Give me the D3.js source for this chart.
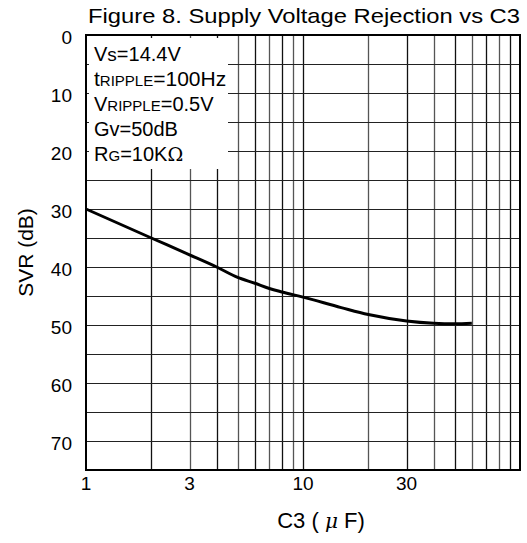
<!DOCTYPE html>
<html>
<head>
<meta charset="utf-8">
<script src="https://cdn.jsdelivr.net/npm/d3@7"></script>
<style>
  body { margin: 0; background: #fff; }
  svg { display: block; font-family: "Liberation Sans", Arial, sans-serif; }
</style>
</head>
<body>
<svg id="chart" width="527" height="543"></svg>
<script>
// C3 capacitance (uF) and supply voltage rejection (dB)
var capValues = [1, 2, 3, 4, 5, 6, 7, 8, 10, 15, 20, 30, 40, 50, 60];
var svrValues = [30.0, 35.0, 37.9, 40.0, 41.8, 42.8, 43.7, 44.3, 45.2, 47.0, 48.2, 49.3, 49.7, 49.8, 49.7];

var xTickLabels = [1, 3, 10, 30];
var yTickLabels = [0, 10, 20, 30, 40, 50, 60, 70];
var xGridValues = [2, 3, 4, 5, 6, 7, 8, 9, 10, 20, 30, 40, 50, 60, 70, 80, 90];
var yGridValues = [5, 10, 15, 20, 25, 30, 35, 40, 45, 50, 55, 60, 65, 70];

var plotLeft = 86, plotRight = 520, plotTop = 35, plotBottom = 470;

var svg = d3.select("#chart");

var x = d3.scaleLog().domain([1, 100]).range([plotLeft, plotRight]);
var y = d3.scaleLinear().domain([0, 75]).range([plotTop, plotBottom]);

// grid
svg.append("g")
    .selectAll("line")
    .data(xGridValues)
    .enter()
    .append("line")
    .attr("x1", function(d) { return Math.round(x(d)) + 0.5; })
    .attr("x2", function(d) { return Math.round(x(d)) + 0.5; })
    .attr("y1", plotTop)
    .attr("y2", plotBottom)
    .attr("stroke", function(d, i) { return i % 2 ? "#555" : "#111"; })
    .attr("stroke-width", 1.3);

svg.append("g")
    .selectAll("line")
    .data(yGridValues)
    .enter()
    .append("line")
    .attr("x1", plotLeft)
    .attr("x2", plotRight)
    .attr("y1", function(d) { return Math.round(y(d)) + 0.5; })
    .attr("y2", function(d) { return Math.round(y(d)) + 0.5; })
    .attr("stroke", "#222")
    .attr("stroke-width", 1.2);

// white box behind the conditions text
svg.append("rect")
    .attr("x", plotLeft + 3)
    .attr("y", plotTop + 3)
    .attr("width", 228 - plotLeft - 3)
    .attr("height", 169 - plotTop - 3)
    .attr("fill", "#fff");

// frame
svg.append("rect")
    .attr("x", plotLeft)
    .attr("y", plotTop)
    .attr("width", plotRight - plotLeft)
    .attr("height", plotBottom - plotTop)
    .attr("fill", "none")
    .attr("stroke", "#000")
    .attr("stroke-width", 2);

// curve
var line = d3.line()
    .x(function(d, i) { return x(capValues[i]); })
    .y(function(d) { return y(d); })
    .curve(d3.curveMonotoneX);

svg.append("path")
    .datum(svrValues)
    .attr("d", line)
    .attr("fill", "none")
    .attr("stroke", "#000")
    .attr("stroke-width", 3);

// tick labels
svg.append("g")
    .selectAll("text")
    .data(yTickLabels)
    .enter()
    .append("text")
    .attr("x", 72)
    .attr("y", function(d) { return y(d) + 2; })
    .attr("dy", "0.35em")
    .attr("text-anchor", "end")
    .attr("font-size", 19)
    .text(function(d) { return d; });

svg.append("g")
    .selectAll("text")
    .data(xTickLabels)
    .enter()
    .append("text")
    .attr("x", function(d) { return x(d); })
    .attr("y", 490)
    .attr("text-anchor", "middle")
    .attr("font-size", 19)
    .text(function(d) { return d; });

// axis titles
svg.append("text")
    .attr("transform", "translate(33," + (plotTop + plotBottom) / 2 + ") rotate(-90)")
    .attr("text-anchor", "middle")
    .attr("font-size", 21)
    .text("SVR (dB)");

var xt = svg.append("text")
    .attr("x", 321)
    .attr("y", 528)
    .attr("text-anchor", "middle")
    .attr("font-size", 22);
xt.append("tspan").text("C3 ( ");
xt.append("tspan").attr("font-family", "DejaVu Serif, serif").attr("font-style", "italic").attr("font-size", 20).text("\u03bc");
xt.append("tspan").text("  F)");

svg.append("text")
    .attr("x", 88)
    .attr("y", 23)
    .attr("font-size", 21)
    .attr("textLength", 432)
    .attr("lengthAdjust", "spacingAndGlyphs")
    .text("Figure 8. Supply Voltage Rejection vs C3");

// test conditions
var conds = [
    [["V", 20], ["s", 19], ["=14.4V", 20]],
    [["t", 21], ["RIPPLE", 15], ["=100Hz", 21]],
    [["V", 20], ["RIPPLE", 15], ["=0.5V", 20]],
    [["Gv=50dB", 20]],
    [["R", 20], ["G", 15], ["=10K", 20], ["\u03a9", 19, "serif"]]
];

var cg = svg.append("g");
conds.forEach(function(parts, i) {
    var t = cg.append("text")
        .attr("x", 94)
        .attr("y", 61 + i * 25);
    parts.forEach(function(p) {
        var s = t.append("tspan").attr("font-size", p[1]).text(p[0]);
        if (p[2]) s.attr("font-family", "DejaVu Serif, serif");
    });
});
</script>
</body>
</html>
